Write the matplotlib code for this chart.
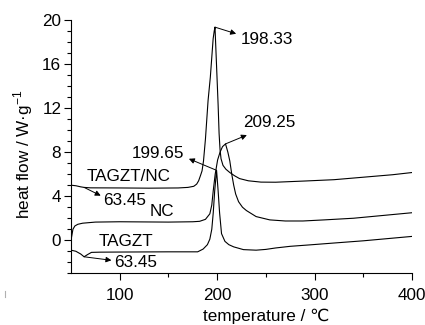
import numpy as np
import matplotlib
matplotlib.use("Agg")
import matplotlib.pyplot as plt
from matplotlib.lines import Line2D

# ---------------- data ----------------
tagztnc_t = [50, 55, 60, 63.45, 70, 100, 130, 160, 170, 176, 179, 181, 183, 184.5,
             186, 188, 190.7, 193, 195.9, 197, 197.8, 199.5, 201, 202, 203, 204,
             206, 209, 213, 218, 223, 232, 245, 260, 290, 320, 340, 360, 380, 400]
tagztnc_hf = [5.0, 4.95, 4.85, 4.8, 4.76, 4.75, 4.73, 4.75, 4.8, 4.9, 5.1, 5.4, 5.9, 6.3,
              7.2, 9.2, 12.7, 14.8, 18.3, 19.0, 19.35, 15.6, 12.3, 9.7, 8.2, 7.4,
              6.8, 6.45, 6.15, 5.85, 5.6, 5.4, 5.28, 5.27, 5.38, 5.5, 5.65, 5.8, 5.95, 6.15]

nc_t = [50, 51, 52, 54, 57, 62, 75, 100, 150, 175, 182, 188, 192.5, 194.5, 196,
        198, 200.5, 203, 205.5, 208.6, 211, 213, 215, 217, 219, 222, 226, 230,
        240, 254, 270, 288, 310, 340, 370, 400]
nc_hf = [0.0, 0.5, 1.0, 1.3, 1.45, 1.55, 1.65, 1.68, 1.65, 1.68, 1.72, 1.9, 2.4, 3.2, 4.5,
         6.0, 7.3, 8.0, 8.5, 8.75, 8.0, 7.2, 6.0, 5.0, 4.2, 3.5, 3.0, 2.7,
         2.15, 1.85, 1.75, 1.75, 1.85, 2.0, 2.25, 2.5]

tagzt_t = [50, 55, 60, 63.45, 67, 71, 80, 100, 150, 180, 185.6, 190, 192.5, 194.5, 196,
           197.5, 199.4, 201, 202.5, 204.5, 208, 212, 217, 227, 240, 250, 260, 275,
           295, 320, 350, 375, 400]
tagzt_hf = [-0.9, -1.0, -1.25, -1.5, -1.3, -1.1, -1.08, -1.07, -1.05, -1.05, -0.8, -0.4, 0.1, 1.0, 2.5,
            4.5, 6.35, 4.5, 2.5, 0.6, -0.1, -0.4, -0.6, -0.85, -0.9, -0.83, -0.7, -0.55,
            -0.42, -0.25, -0.05, 0.15, 0.35]

peak_labels = ["198.33", "209.25", "199.65"]
onset_label = "63.45"
onset_temp = 63.45
curve_names = ["TAGZT/NC", "NC", "TAGZT"]

x_ticks = [100, 200, 300, 400]
y_ticks = [0, 4, 8, 12, 16, 20]

# ---------------- style ----------------
FAM = ["Liberation Sans", "DejaVu Sans"]
plt.rcParams["font.family"] = FAM
plt.rcParams["mathtext.fontset"] = "custom"
plt.rcParams["mathtext.rm"] = FAM[0]
FS = 12.3

fig = plt.figure(figsize=(4.25, 3.25), dpi=100)
ax = fig.add_axes([71 / 425, 1 - 273.3 / 325, (412 - 71) / 425, (273.3 - 20) / 325])

lw = 0.8
for t, h in [(tagztnc_t, tagztnc_hf), (nc_t, nc_hf), (tagzt_t, tagzt_hf)]:
    ax.plot(t, h, color="black", lw=lw, solid_joinstyle="round")

ax.set_xlim(50, 400)
ax.set_ylim(-3, 20)
ax.set_xticks(x_ticks)
ax.set_yticks(y_ticks)
ax.set_xticks([150, 250, 350], minor=True)
ax.set_yticks([v for v in range(-3, 21) if v % 4 != 0], minor=True)
ax.tick_params(which="major", direction="out", length=5, width=0.8, labelsize=FS)
ax.tick_params(which="minor", direction="out", length=3, width=0.8)
ax.tick_params(axis="x", which="major", pad=5.5)
ax.tick_params(axis="y", which="major", pad=2)
for s in ["top", "right"]:
    ax.spines[s].set_visible(False)
for s in ["left", "bottom"]:
    ax.spines[s].set_linewidth(0.8)

fig.text(266 / 425, 1 - 316.5 / 325, "temperature / ℃", ha="center", va="center",
         fontsize=FS, family=FAM)
fig.text(23.5 / 425, 1 - 154 / 325, r"heat flow / W·g$^{\mathregular{-1}}$", ha="center",
         va="center", rotation=90, fontsize=FS, family=FAM)

arrow = dict(arrowstyle="-|>", color="black", lw=0.7, mutation_scale=8,
             shrinkA=0, shrinkB=0)

def peak(t, h):
    i = int(np.argmax(h))
    return t[i], h[i]

# 198.33 (TAGZT/NC)
p = peak(tagztnc_t, tagztnc_hf)
ax.annotate("", xy=(219.5, 18.75), xytext=p, arrowprops=arrow)
ax.text(224, 18.2, peak_labels[0], fontsize=FS, ha="left", va="center")

# 209.25 (NC)
p = peak(nc_t, nc_hf)
ax.annotate("", xy=(230.5, 9.55), xytext=p, arrowprops=arrow)
ax.text(226.5, 10.7, peak_labels[1], fontsize=FS, ha="left", va="center")

# 199.65 (TAGZT)
p = peak(tagzt_t, tagzt_hf)
ax.annotate("", xy=(171, 7.4), xytext=p, arrowprops=arrow)
ax.text(166, 7.85, peak_labels[2], fontsize=FS, ha="right", va="center")

# onset labels
y_on = float(np.interp(onset_temp, tagztnc_t, tagztnc_hf))
ax.annotate("", xy=(80.5, 4.05), xytext=(onset_temp, y_on), arrowprops=arrow)
ax.text(82.5, 3.64, onset_label, fontsize=FS, ha="left", va="center")

y_on = float(np.interp(onset_temp, tagzt_t, tagzt_hf))
ax.annotate("", xy=(91.5, -1.82), xytext=(onset_temp, y_on), arrowprops=arrow)
ax.text(93.8, -2.05, onset_label, fontsize=FS, ha="left", va="center")

# curve names
ax.text(66, 5.75, curve_names[0], fontsize=FS, ha="left", va="center")
ax.text(131, 2.57, curve_names[1], fontsize=FS, ha="left", va="center")
ax.text(78.5, -0.15, curve_names[2], fontsize=FS, ha="left", va="center")

# faint stray mark at left
fig.add_artist(Line2D([4.5 / 425, 4.5 / 425], [1 - 291 / 325, 1 - 297 / 325],
                      color="#b0b0b0", lw=0.8, transform=fig.transFigure))

fig.savefig("out.png", dpi=100)
